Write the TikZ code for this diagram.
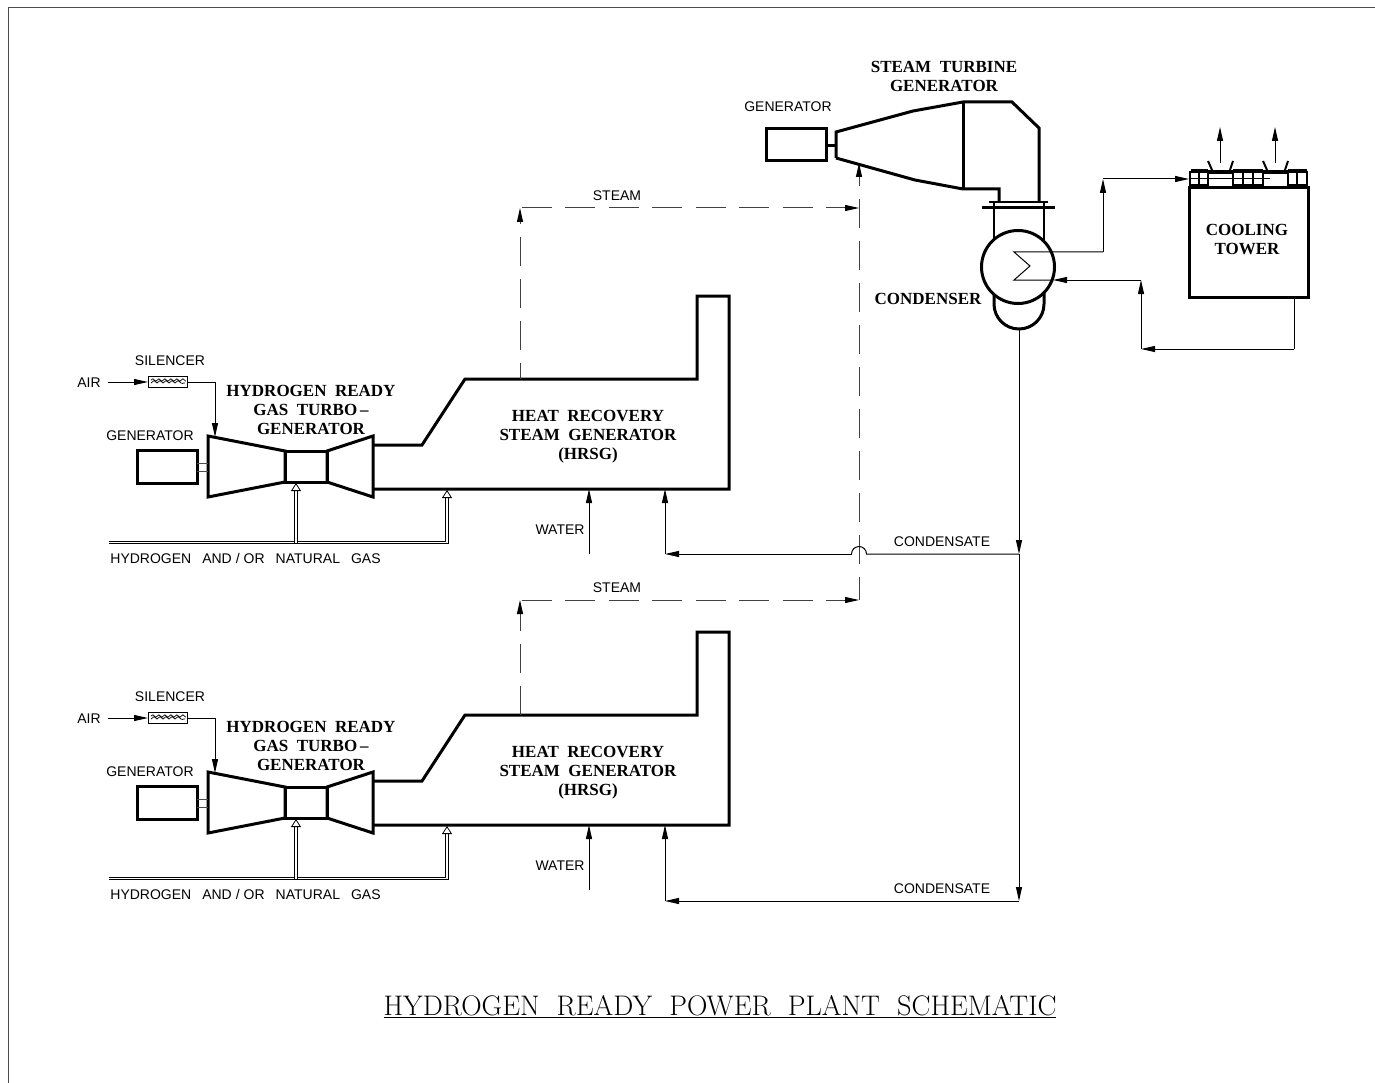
\documentclass[tikz,border=0pt]{standalone}
\usepackage{fontspec}
\setsansfont{Liberation Sans}
\newfontfamily\namefont[BoldFont={Liberation Serif Bold}]{Liberation Serif}
\usepackage{tikz}
\usetikzlibrary{arrows.meta, decorations.pathmorphing}

\begin{document}
\begin{tikzpicture}[x=1pt, y=-1pt,
    equip/.style={draw, line width=3pt, fill=white, inner sep=0pt},
    heavy/.style={line width=3pt, line join=miter},
    pipe/.style={line width=1pt, -{Triangle[length=14pt,width=6pt]}},
    thinline/.style={line width=1pt},
    steamh/.style={line width=1pt, black!75, dash pattern=on 30pt off 13.5pt, dash phase=42pt, -{Triangle[length=14pt,width=6pt,black]}},
    steamv/.style={line width=1pt, black!75, dash pattern=on 29pt off 13pt, -{Triangle[length=14pt,width=6pt,black]}},
    gas/.style={line width=.8pt, double, double distance=1.8pt},
    tag/.style={font=\sffamily\fontsize{14}{16}\selectfont, inner sep=0pt, yshift=-1pt},
    eqname/.style={font=\namefont\bfseries\fontsize{17}{19}\selectfont, align=center, inner sep=0pt}
  ]
\useasboundingbox (0,0) rectangle (1375,1083);
\draw[line width=.8pt, black!70] (8,1083)--(8,7)--(1375,7);

% the two gas turbine trains
\foreach \dy/\tr in {0/a, 336/b} {
  \begin{scope}[shift={(0,\dy)}]
    \node[equip, minimum width=60pt, minimum height=33pt] (gen\tr) at (167,466.5) {};
    \node[equip, minimum width=42pt, minimum height=31pt] (comb\tr) at (306,466.5) {};
    \draw[heavy] (208,436)--(285,451)--(285,482)--(208,497)--cycle;
    \draw[heavy] (327,451)--(373,436)--(373,497)--(327,482)--cycle;
    \draw[line width=.8pt, black!70] (197,463)--(208,463) (197,471)--(208,471);
    \draw[heavy] (373,445)--(422,445)--(465,379)--(697,379)--(697,296)--(729,296)--(729,489)--(373,489);

    \node[draw, line width=1pt, minimum width=39pt, minimum height=11pt, inner sep=0pt] (sil\tr) at (167.5,381.5) {};
    \draw[line width=.7pt, decorate, decoration={snake, segment length=6pt, amplitude=1.2pt}]
      (151,380)--(185,380) (151,383)--(185,383);

    \node[tag] (air\tr) at (89,382) {AIR};
    \node[tag] (siltag\tr) at (170,360) {SILENCER};
    \node[tag] (gentag\tr) at (150,435) {GENERATOR};
    \node[tag] (fuel\tr) at (245.5,557) {HYDROGEN\hspace{11pt}AND\kern4pt/\kern4pt OR\hspace{11pt}NATURAL\hspace{11pt}GAS};
    \node[tag] (water\tr) at (560,529) {WATER};
    \node[eqname] (gt\tr) at (311,410) {HYDROGEN\ \ READY\\GAS\ \ TURBO\,–\\GENERATOR};
    \node[eqname] (hrsg\tr) at (588,437) {HEAT\ \ RECOVERY\\STEAM\ \ GENERATOR\\(HRSG)};

    \coordinate (a0\tr) at (108,382);
    \coordinate (a1\tr) at (148,382);
    \coordinate (a2\tr) at (187,382);
    \coordinate (a3\tr) at (215,382);
    \coordinate (a4\tr) at (215,437);
    \draw[pipe] (a0\tr)--(a1\tr);
    \draw[thinline] (a2\tr)--(a3\tr);
    \draw[pipe] (a3\tr)--(a4\tr);

    \coordinate (f0\tr) at (109,542.5);
    \coordinate (f1\tr) at (447,542.5);
    \coordinate (f2\tr) at (447,490);
    \coordinate (f3\tr) at (296,542.5);
    \coordinate (f4\tr) at (296,483);
    \draw[gas, -{Triangle[open, length=8pt, width=10pt]}] (f0\tr)--(f1\tr)--(f2\tr);
    \draw[gas, -{Triangle[open, length=8pt, width=10pt]}] (f3\tr)--(f4\tr);

    \coordinate (w0\tr) at (589,554);
    \coordinate (w1\tr) at (589,489);
    \draw[pipe] (w0\tr)--(w1\tr);
  \end{scope}
}

% steam lines
\coordinate (s1) at (520,379);
\coordinate (s2) at (520,208);
\coordinate (s3) at (859,208);
\coordinate (s4) at (520,715);
\coordinate (s5) at (520,600);
\coordinate (s6) at (859,600);
\coordinate (s7) at (859,163);
\draw[steamv, dash phase=13pt] (s1)--(s2);
\draw[steamh] (s2)--(s3);
\draw[steamv] (s4)--(s5);
\draw[steamh] (s5)--(s6);
\draw[steamv, dash phase=6pt] (s6)--(s7);
\node[tag] (stm1) at (617,195) {STEAM};
\node[tag] (stm2) at (617,587) {STEAM};

% condensate
\coordinate (c0) at (1019,330);
\coordinate (c1) at (1019,554);
\coordinate (c2) at (1019,901);
\coordinate (c3) at (665,554);
\coordinate (c4) at (665,489);
\coordinate (c5) at (665,901);
\coordinate (c6) at (665,825);
\coordinate (c7) at (866.5,554);
\coordinate (c8) at (851.5,554);
\draw[pipe] (c0)--(c1);
\draw[pipe] (c1)--(c2);
\draw[thinline] (c1)--(c7) arc[start angle=0, end angle=-180, radius=7.5];
\draw[pipe] (c8)--(c3);
\draw[pipe] (c3)--(c4);
\draw[pipe] (c2)--(c5);
\draw[pipe] (c5)--(c6);
\node[tag] (cond1) at (942,541) {CONDENSATE};
\node[tag] (cond2) at (942,888) {CONDENSATE};

% steam turbine and condenser
\node[equip, minimum width=60pt, minimum height=32pt] (stg) at (796,145) {};
\draw[heavy] (826,146)--(836,146);
\draw[heavy] (836,158)--(836,132)--(913,111)--(963,102)--(1012,102)--(1039,128)--(1039,202);
\draw[heavy] (836,158)--(915,180)--(963,189)--(999,189)--(999,202);
\draw[heavy] (963,102)--(963,189);
\draw[line width=2pt] (989,202)--(1048,202);
\draw[heavy] (982,208)--(1055,208);
\draw[line width=2.5pt] (994,202)--(994,240) (1044,202)--(1044,240);
\draw[heavy] (994,285)--(994,304) arc[start angle=180, end angle=0, radius=25]--(1044,285);
\node[equip, circle, minimum size=73pt] (cnd) at (1018,267) {};
\node[tag] (gentag) at (788,106) {GENERATOR};
\node[eqname] (stgtag) at (944,76) {STEAM\ \ TURBINE\\GENERATOR};
\node[eqname] (cndtag) at (928,299) {CONDENSER};

% cooling water
\coordinate (h0) at (1014,252);
\coordinate (h1) at (1030,266);
\coordinate (h2) at (1014,280);
\coordinate (h3) at (1103,252);
\coordinate (h4) at (1103,179);
\coordinate (h5) at (1189,179);
\coordinate (h6) at (1270,179);
\coordinate (h7) at (1141,349);
\coordinate (h8) at (1141,280);
\coordinate (h9) at (1053,280);
\coordinate (h10) at (1294,297);
\coordinate (h11) at (1294,349);
\draw[thinline] (h3)--(h0)--(h1)--(h2)--(h9);
\draw[pipe] (h3)--(h4);
\draw[pipe] (h4)--(h5);
\draw[thinline] (h5)--(h6);
\draw[pipe] (h8)--(h9);
\draw[pipe] (h7)--(h8);
\draw[thinline] (h10)--(h11);
\draw[pipe] (h11)--(h7);

% cooling tower
\node[equip, minimum width=119pt, minimum height=109pt] (ct) at (1248.5,242.5) {};
\node[eqname] (cttag) at (1247,240) {COOLING\\TOWER};
\draw[line width=2pt] (1191,170)--(1208,170) (1233,170)--(1263,170) (1288,170)--(1307,170);
\draw[line width=1.2pt] (1190,172) rectangle (1208,185) (1233,172) rectangle (1263,185) (1288,172) rectangle (1307,185);
\draw[line width=1.2pt] (1199,172)--(1199,188) (1243,172)--(1243,188) (1253,172)--(1253,188) (1297,172)--(1297,188);
\draw[line width=2pt] (1208,161)--(1212,170) (1233,161)--(1230,170) (1263,161)--(1267,170) (1288,161)--(1285,170);
\draw[line width=3.5pt] (1208,172)--(1233,172) (1263,172)--(1288,172);
\coordinate (v1) at (1220,163);
\coordinate (v2) at (1220,127);
\coordinate (v3) at (1275,163);
\coordinate (v4) at (1275,127);
\draw[pipe] (v1)--(v2);
\draw[pipe] (v3)--(v4);

\node[font=\fontsize{28.3}{30}\selectfont, inner sep=0pt] (title) at (720,1006.5) {\underline{HYDROGEN\ \ READY\ \ POWER\ \ PLANT\ \ SCHEMATIC}};
\end{tikzpicture}
\end{document}
